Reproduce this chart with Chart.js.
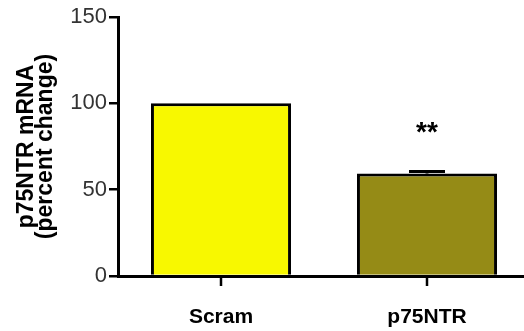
<!DOCTYPE html>
<html>
<head>
<meta charset="utf-8">
<script src="https://cdn.jsdelivr.net/npm/chart.js@4"></script>
<style>
  html, body { margin: 0; padding: 0; background: #fff; overflow: hidden; }
</style>
</head>
<body>
<canvas id="myChart" width="530" height="331"></canvas>
<script>
var labels = ["Scram", "p75NTR"];
var values = [100, 59.3];
var sem = [0, 1.2];
var stars = ["", "**"];
var yTicks = [0, 50, 100, 150];

// x tick marks at bar centres, error cap and significance stars
var errorBars = {
    id: 'errorBars',
    afterDatasetsDraw: function(chart) {
        var c = chart.ctx;
        var meta = chart.getDatasetMeta(0);
        var x = chart.scales.x;
        var y = chart.scales.y;
        c.save();
        c.strokeStyle = '#000';
        c.lineWidth = 2.5;
        labels.forEach(function(l, i) {
            var px = x.getPixelForTick(i);
            c.beginPath();
            c.moveTo(px, x.top);
            c.lineTo(px, x.top + 10);
            c.stroke();
        });
        c.restore();
        meta.data.forEach(function(bar, i) {
            var top = y.getPixelForValue(values[i] + sem[i]);
            c.save();
            if (sem[i] > 0) {
                c.strokeStyle = '#000';
                c.lineWidth = 3;
                c.beginPath();
                c.moveTo(bar.x, bar.y);
                c.lineTo(bar.x, top);
                c.moveTo(bar.x - 18, top);
                c.lineTo(bar.x + 18, top);
                c.stroke();
            }
            if (stars[i]) {
                c.fillStyle = '#000';
                c.font = 'bold 28px "Liberation Sans", Arial';
                c.textAlign = 'center';
                c.textBaseline = 'middle';
                c.fillText(stars[i], bar.x, top - 38);
            }
            c.restore();
        });
    }
};

var ctx = document.getElementById("myChart").getContext('2d');
var myChart = new Chart(ctx, {
    type: 'bar',
    data: {
        labels: labels,
        datasets: [{
            data: values,
            backgroundColor: ['#f8f800', '#958b16'],
            borderColor: '#000',
            borderWidth: 3,
            borderSkipped: 'bottom',
            barPercentage: 0.68,
            categoryPercentage: 1.0
        }]
    },
    options: {
        responsive: false,
        animation: false,
        layout: {
            padding: { left: 0, right: 0, top: 17, bottom: 0 }
        },
        plugins: {
            legend: { display: false },
            tooltip: { enabled: false }
        },
        scales: {
            x: {
                afterFit: function(scale) { scale.height = 55; },
                grid: { display: true, drawOnChartArea: false, drawTicks: false, tickLength: 9, color: '#000' },
                border: { display: true, color: '#000', width: 3 },
                ticks: {
                    color: '#000',
                    padding: 29,
                    font: { family: '"Liberation Sans", Arial', size: 21, weight: 'bold' }
                }
            },
            y: {
                min: 0,
                max: 150,
                afterBuildTicks: function(scale) {
                    scale.ticks = yTicks.map(function(v) { return { value: v }; });
                },
                afterFit: function(scale) { scale.width = 118; },
                grid: { drawOnChartArea: false, drawTicks: true, tickLength: 9, color: '#000', lineWidth: 2.5 },
                border: { display: true, color: '#000', width: 3 },
                ticks: {
                    color: '#333',
                    padding: 2,
                    font: { family: '"Liberation Sans", Arial', size: 22 }
                },
                title: {
                    display: true,
                    text: ['p75NTR mRNA', '(percent change)'],
                    color: '#000',
                    padding: { top: 17, bottom: 0 },
                    font: { family: '"Liberation Sans", Arial', size: 23, weight: 'bold', lineHeight: 0.82 }
                }
            }
        }
    },
    plugins: [errorBars]
});
</script>
</body>
</html>
